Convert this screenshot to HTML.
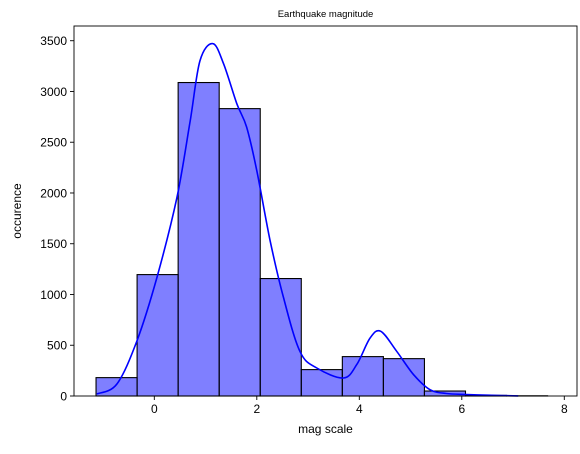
<!DOCTYPE html>
<html><head><meta charset="utf-8"><style>
body{margin:0;background:#fff;font-family:"Liberation Sans","DejaVu Sans",sans-serif}
</style></head><body>
<svg id="chart" width="580" height="449" xmlns="http://www.w3.org/2000/svg" font-family="Liberation Sans, DejaVu Sans, sans-serif"></svg>
<script>
const binStart = -1.137;
const binWidth = 0.801;
const counts = [181, 1196, 3088, 2831, 1157, 260, 388, 368, 49, 6, 2];
const kdeX = [-1.12,-0.73,-0.34,0.05,0.44,0.70,0.89,1.14,1.35,1.61,1.80,2.00,2.26,2.52,2.84,3.17,3.69,3.95,4.21,4.42,4.73,5.06,5.38,5.7,6.1,6.5,7.1];
const kdeY = [20,118,542,1166,1954,2710,3300,3472,3275,2880,2650,2220,1530,970,440,276,177,309,571,637,440,210,62,25,15,8,1];
const xTicks = [0,2,4,6,8];
const yTicks = [0,500,1000,1500,2000,2500,3000,3500];

const L=74,R=577,T=26,B=396;
const xMin=-1.567,xMax=8.248,yMin=0,yMax=3645;
const sx=v=>L+(v-xMin)/(xMax-xMin)*(R-L);
const sy=v=>B-(v-yMin)/(yMax-yMin)*(B-T);
const svg=document.getElementById('chart');
const NS='http://www.w3.org/2000/svg';
function mk(tag,attrs,parent){const e=document.createElementNS(NS,tag);for(const k in attrs)e.setAttribute(k,attrs[k]);(parent||svg).appendChild(e);return e;}

counts.forEach((c,i)=>{
  const x0=sx(binStart+i*binWidth),x1=sx(binStart+(i+1)*binWidth);
  const r=mk('rect',{x:x0,y:sy(c),width:x1-x0,height:sy(0)-sy(c),fill:'rgba(0,0,255,0.5)',stroke:'#000','stroke-width':1.1});
  
  
});
const pts=kdeX.map((x,i)=>[sx(x),sy(kdeY[i])]);
let d='M'+pts[0][0].toFixed(1)+','+pts[0][1].toFixed(1);
for(let i=0;i<pts.length-1;i++){
  const p0=pts[Math.max(0,i-1)],p1=pts[i],p2=pts[i+1],p3=pts[Math.min(pts.length-1,i+2)];
  const c1=[p1[0]+(p2[0]-p0[0])/6,p1[1]+(p2[1]-p0[1])/6];
  const c2=[p2[0]-(p3[0]-p1[0])/6,p2[1]-(p3[1]-p1[1])/6];
  d+='C'+c1.map(v=>v.toFixed(1)).join(',')+' '+c2.map(v=>v.toFixed(1)).join(',')+' '+p2.map(v=>v.toFixed(1)).join(',');
}
const p=mk('path',{d:d,fill:'none',stroke:'#0000ff','stroke-width':1.6,'stroke-linejoin':'round'});



const frame=mk('rect',{x:L,y:T,width:R-L,height:B-T,fill:'none',stroke:'#000','stroke-width':0.9});



xTicks.forEach(t=>{
  mk('line',{x1:sx(t),x2:sx(t),y1:B,y2:B+4,stroke:'#000','stroke-width':0.9});
  const tx=mk('text',{x:sx(t),y:B+17,'font-size':12,'text-anchor':'middle',fill:'#000'});
  tx.textContent=t;
  
  
});
yTicks.forEach(t=>{
  mk('line',{x1:L-4,x2:L,y1:sy(t),y2:sy(t),stroke:'#000','stroke-width':0.9});
  const tx=mk('text',{x:L-7,y:sy(t)+4.5,'font-size':12,'text-anchor':'end',fill:'#000'});
  tx.textContent=t;
  
  
});
const xt=mk('text',{x:(L+R)/2,y:433,'font-size':12,'text-anchor':'middle'});
xt.textContent='mag scale';


const yt=mk('text',{x:21,y:(T+B)/2,'font-size':12,'text-anchor':'middle',transform:'rotate(-90 21 '+((T+B)/2)+')'});
yt.textContent='occurence';


const tt=mk('text',{x:(L+R)/2,y:17,'font-size':9.5,'text-anchor':'middle'});
tt.textContent='Earthquake magnitude';


</script>
</body></html>
